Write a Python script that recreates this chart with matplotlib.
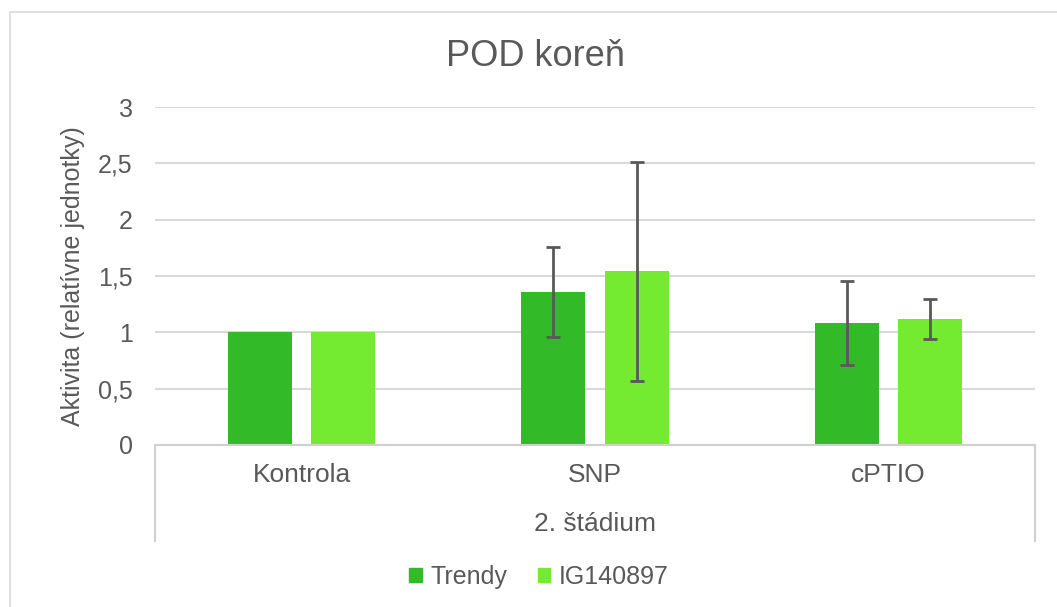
import numpy as np
import matplotlib.pyplot as plt
from matplotlib.lines import Line2D
from matplotlib.patches import Rectangle

plt.rcParams['font.family'] = ['Liberation Sans', 'DejaVu Sans']

categories = ['Kontrola', 'SNP', 'cPTIO']
group_label = '2. štádium'
series = ['Trendy', 'IG140897']
trendy = [1.0, 1.36, 1.085]
trendy_err = [0.0, 0.40, 0.375]
ig = [1.0, 1.54, 1.12]
ig_err = [0.0, 0.97, 0.18]
yticks = [0, 0.5, 1, 1.5, 2, 2.5, 3]

colors = ['#32ba29', '#74eb31']
txt = '#595959'

fig = plt.figure(figsize=(10.57, 6.07), dpi=100)
fig.patches.append(Rectangle((0.009, -0.01), 1.0, 0.99, transform=fig.transFigure,
                             fill=False, edgecolor='#d9d9d9', lw=1.2))
ax = fig.add_axes([0.1466, 0.2669, 0.8325, 0.5568])

x = np.arange(len(categories))
w = 0.218
off = 0.142
for vals, errs, c, dx in [(trendy, trendy_err, colors[0], -off), (ig, ig_err, colors[1], off)]:
    ax.bar(x + dx, vals, width=w, color=c, zorder=2)
    e = np.array(errs)
    m = e > 0
    ax.errorbar((x + dx)[m], np.array(vals)[m], yerr=e[m], fmt='none',
                ecolor=txt, elinewidth=2, capsize=5, capthick=2, zorder=3)

ax.set_xlim(-0.5, 2.5)
ax.set_ylim(0, 3)
ax.set_yticks(yticks)
ax.set_yticklabels([f'{v:g}'.replace('.', ',') for v in yticks])
ax.yaxis.grid(True, color='#d9d9d9', lw=1.5, zorder=0)
ax.set_axisbelow(True)
for s in ['top', 'right', 'left']:
    ax.spines[s].set_visible(False)
ax.spines['bottom'].set_color('#d0d0d0')
ax.spines['bottom'].set_linewidth(1.5)
ax.tick_params(axis='y', length=0, labelsize=18, labelcolor=txt, pad=16)
ax.tick_params(axis='x', length=0, labelsize=19, labelcolor=txt, pad=13)
ax.set_xticks(x)
ax.set_xticklabels(categories)

# category group box
for xx in [-0.5, 2.5]:
    ax.add_line(Line2D([xx, xx], [0, -0.85], color='#d0d0d0', lw=1.5,
                       clip_on=False, transform=ax.transData))
ax.text(1, -0.7, group_label, ha='center', va='center', fontsize=19, color=txt)

ax.set_ylabel('Aktivita (relatívne jednotky)', fontsize=18, color=txt, labelpad=9)
fig.text(0.507, 0.907, 'POD koreň', ha='center', va='center', fontsize=26, color=txt)

handles = [Rectangle((0, 0), 1, 1, color=c) for c in colors]
fig.legend(handles, series, loc='center', bbox_to_anchor=(0.51, 0.05), ncol=2,
           frameon=False, fontsize=18, labelcolor=txt, handlelength=0.5,
           handleheight=0.5, handletextpad=0.35, columnspacing=1.2)

fig.savefig('out.png', dpi=100)
